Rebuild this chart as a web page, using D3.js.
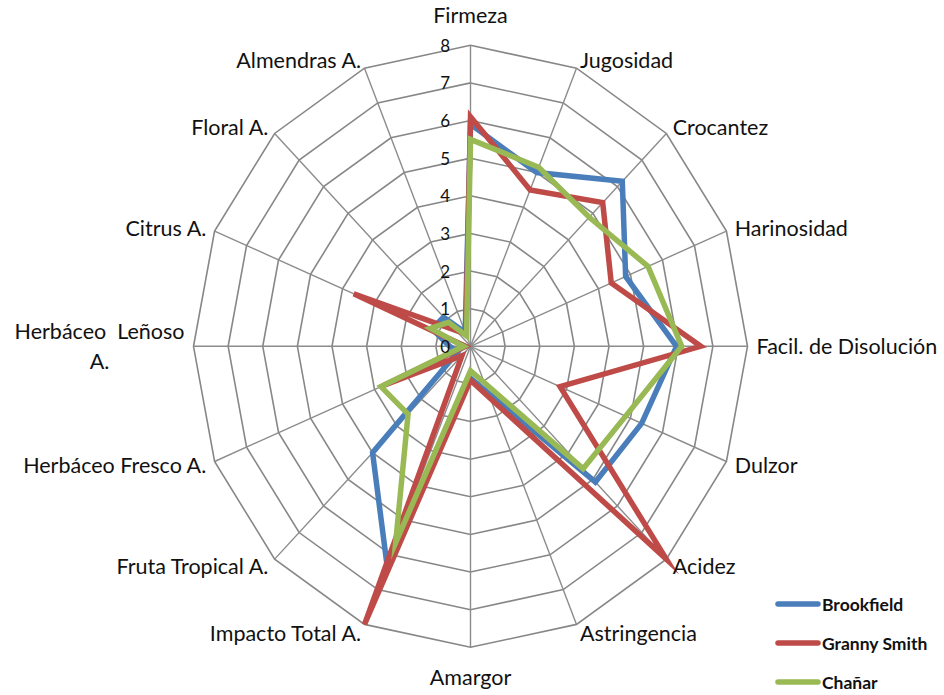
<!DOCTYPE html>
<html>
<head>
<meta charset="utf-8">
<script src="https://cdn.jsdelivr.net/npm/d3@7"></script>
<style>
  html, body { margin: 0; padding: 0; background: #fff; }
  svg { display: block; }
  text { font-family: Lato, "Open Sans", sans-serif; fill: #111; }
</style>
</head>
<body>
<svg id="chart" width="944" height="695"></svg>
<script>
const categories = ["Firmeza", "Jugosidad", "Crocantez", "Harinosidad", "Facil. de Disolución",
  "Dulzor", "Acidez", "Astringencia", "Amargor", "Impacto Total A.", "Fruta Tropical A.",
  "Herbáceo Fresco A.", "Herbáceo  Leñoso|A.", "Citrus A.", "Floral A.", "Almendras A."];
const brookfield  = [5.9, 5.0, 6.2, 4.85, 5.95, 5.35, 5.1, 1.35, 0.85, 6.3, 4.0, 0.4, 0.6, 1.2, 1.1, 0.4];
const grannySmith = [6.1, 4.5, 5.4, 4.4, 6.65, 2.8, 8.0, 1.5, 0.9, 8.0, 0.35, 2.7, 0.15, 3.65, 0.6, 0.35];
const chanar      = [5.5, 5.15, 4.85, 5.55, 6.1, 4.85, 4.6, 1.05, 0.65, 5.65, 2.55, 2.8, 0.2, 1.25, 0.9, 0.3];
const seriesNames = ["Brookfield", "Granny Smith", "Chañar"];
const seriesColors = ["#4a7ebb", "#be4b48", "#98b954"];
const tickValues = [0, 1, 2, 3, 4, 5, 6, 7, 8];

const svg = d3.select("#chart");
const cx = 470.5, cy = 346.3;
const rX = d3.scaleLinear().domain([0, 8]).range([0, 277]);
const rY = d3.scaleLinear().domain([0, 8]).range([0, 301]);
const angle = d3.scalePoint().domain(d3.range(categories.length + 1)).range([0, 2 * Math.PI]);
const px = (i, v) => cx + rX(v) * Math.sin(angle(i));
const py = (i, v) => cy - rY(v) * Math.cos(angle(i));

const n = categories.length;
const grid = svg.append("g");
tickValues.filter(t => t > 0).forEach(t => {
  const pts = d3.range(n).map(i => [px(i, t), py(i, t)]);
  grid.append("polygon").attr("points", pts.map(p => p.join(",")).join(" "))
    .attr("fill", "none").attr("stroke", "#878787").attr("stroke-width", 1.6);
});
d3.range(n).forEach(i => {
  grid.append("line").attr("x1", cx).attr("y1", cy)
    .attr("x2", px(i, 8)).attr("y2", py(i, 8))
    .attr("stroke", "#8c8c8c").attr("stroke-width", 1.4);
});

const line = d3.line().curve(d3.curveLinearClosed);
[brookfield, grannySmith, chanar].forEach((vals, s) => {
  svg.append("path")
    .attr("d", line(vals.map((v, i) => [px(i, v), py(i, v)])))
    .attr("fill", "none").attr("stroke", seriesColors[s])
    .attr("stroke-width", 5.5).attr("stroke-linejoin", "miter").attr("stroke-miterlimit", 10);
});

svg.append("g").selectAll("text").data(tickValues).join("text")
  .attr("x", 450).attr("y", d => py(0, d))
  .attr("text-anchor", "end").attr("dominant-baseline", "central")
  .style("font-size", "17px").text(d => d);

const labG = svg.append("g");
const fs = "21.5px";
categories.forEach((c, i) => {
  const a = angle(i);
  const s = Math.sin(a), co = Math.cos(a);
  const pad = 9;
  let lx = px(i, 8) + s * pad;
  let ly = py(i, 8) - co * pad;
  if (Math.abs(s) < 0.1) ly -= co * 21;
  const anchor = s > 0.1 ? "start" : (s < -0.1 ? "end" : "middle");
  const parts = c.split("|");
  if (parts.length === 1) {
    labG.append("text").attr("x", lx).attr("y", ly)
      .attr("text-anchor", anchor).attr("dominant-baseline", "central")
      .style("font-size", fs).style("white-space", "pre").text(c);
  } else {
    const t1 = labG.append("text").attr("x", lx).attr("y", ly - 15)
      .attr("text-anchor", anchor).attr("dominant-baseline", "central")
      .style("font-size", fs).style("white-space", "pre").text(parts[0]);
    const w = t1.node().getComputedTextLength();
    labG.append("text").attr("x", lx - w / 2).attr("y", ly + 15)
      .attr("text-anchor", "middle").attr("dominant-baseline", "central")
      .style("font-size", fs).text(parts[1]);
  }
});

const leg = svg.append("g");
seriesNames.forEach((nm, s) => {
  const y = 604 + s * 39;
  leg.append("line").attr("x1", 778).attr("x2", 818).attr("y1", y).attr("y2", y)
    .attr("stroke", seriesColors[s]).attr("stroke-width", 5.5).attr("stroke-linecap", "round");
  leg.append("text").attr("x", 822).attr("y", y).attr("dominant-baseline", "central")
    .style("font-size", "17.5px").style("font-weight", "700").text(nm);
});
</script>
</body>
</html>
